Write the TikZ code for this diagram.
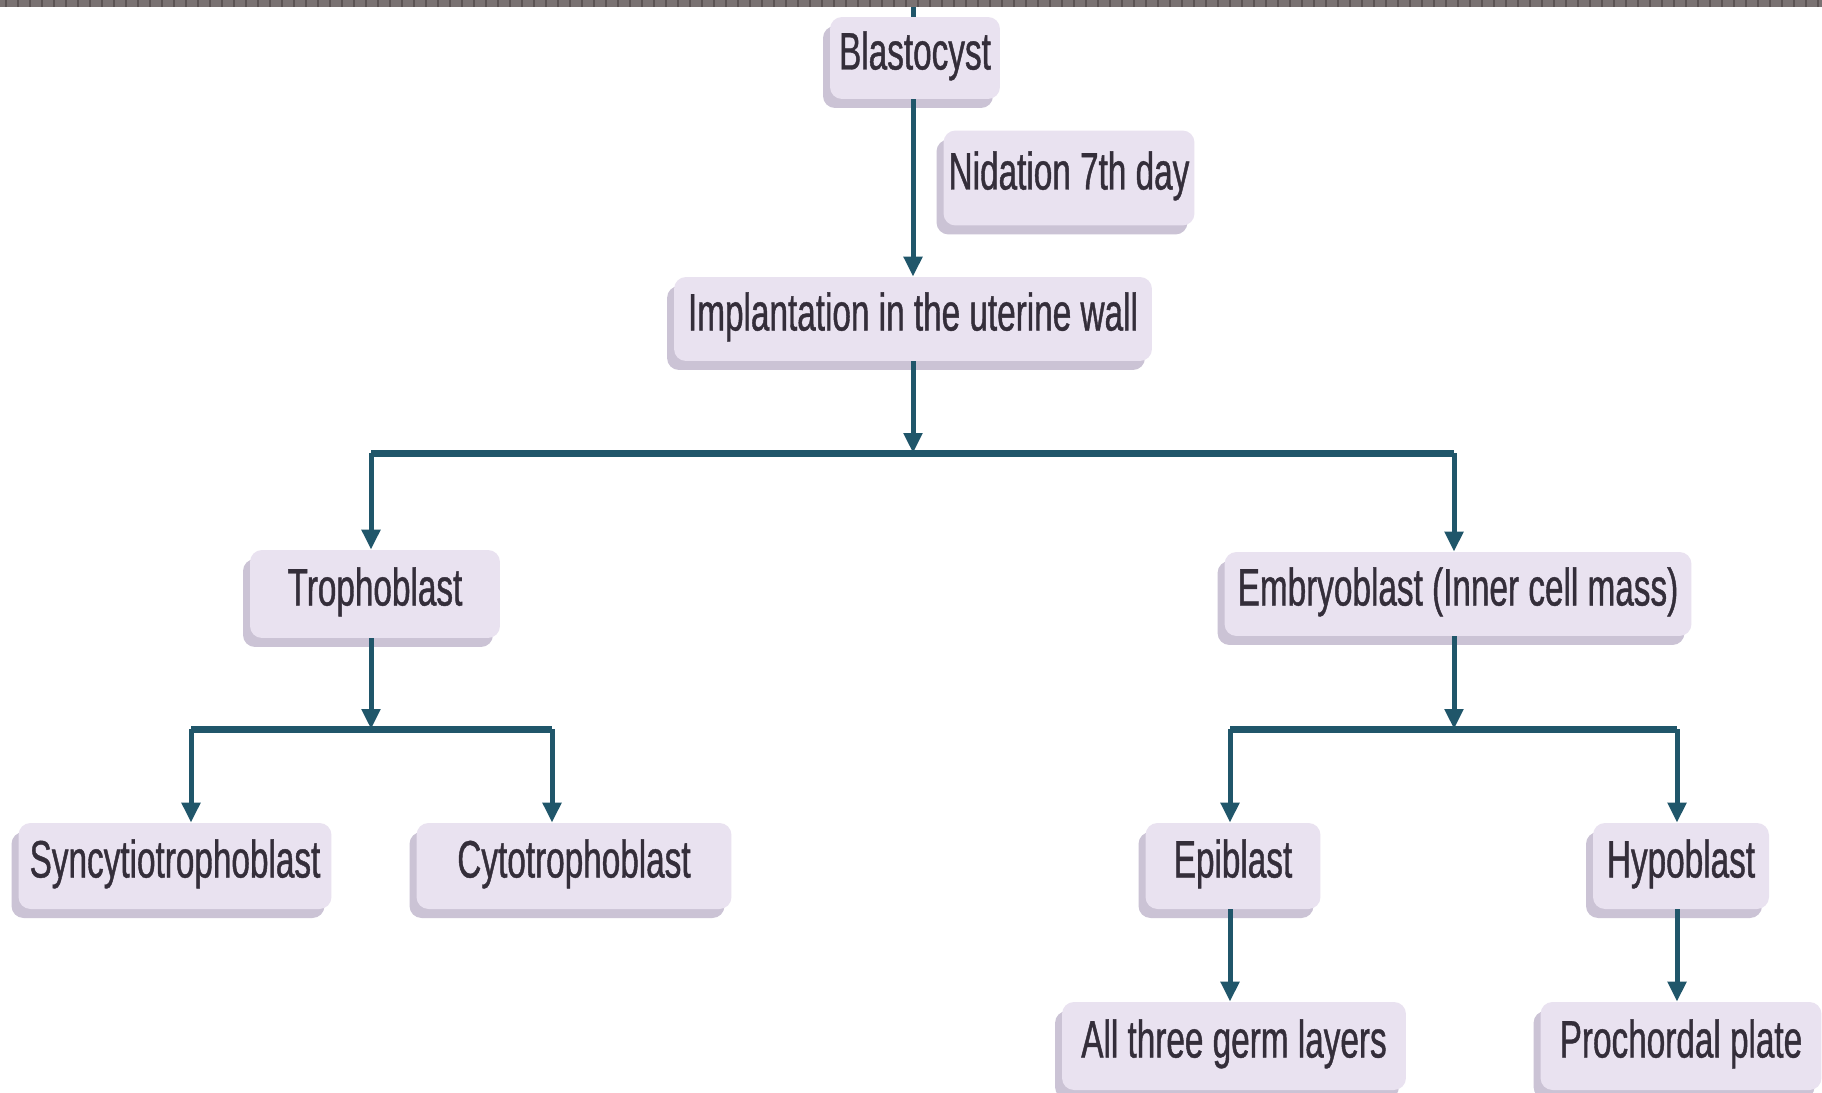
\documentclass[tikz,border=0pt]{standalone}
\usepackage{fontspec}
\setmainfont{Liberation Sans}[FakeStretch=0.632, FakeBold=0.8]
\usetikzlibrary{arrows.meta,shadows}
\definecolor{boxfill}{RGB}{233,226,240}
\definecolor{boxshadow}{RGB}{203,195,213}
\definecolor{linecol}{RGB}{32,86,106}
\definecolor{textcol}{RGB}{52,46,58}
\definecolor{stripcol}{RGB}{122,114,114}
\definecolor{tickcol}{RGB}{92,84,84}
\tikzset{
  box/.style={rectangle, rounded corners=0.24cm, fill=boxfill, draw=none,
    text=textcol, inner sep=0pt, align=center,
    font=\fontsize{30pt}{36pt}\selectfont,
    text height=0.76cm, text depth=0.3cm,
    drop shadow={shadow xshift=-0.14cm, shadow yshift=-0.18cm, fill=boxshadow, opacity=1}},
  conn/.style={draw=linecol, line width=0.1cm},
  bar/.style={draw=linecol, line width=0.14cm},
  arr/.style={conn, -{Triangle[width=0.36cm,length=0.4cm]}},
}
\begin{document}
\begin{tikzpicture}[x=0.02cm, y=-0.02cm]
\useasboundingbox (0,0) rectangle (1822,1092);
\fill[white] (0,0) rectangle (1822,1092);
% top strip
\fill[stripcol] (0,0) rectangle (1822,7);
\foreach \i in {0,...,151} { \fill[tickcol] (5+12*\i,0) rectangle (6.5+12*\i,7); }

% nodes
\node[box, minimum width=3.4cm, minimum height=1.64cm] (blast) at (915,58) {Blastocyst};
\node[box, minimum width=5.02cm, minimum height=1.9cm] (nid) at (1069,178) {Nidation 7th day};
\node[box, minimum width=9.56cm, minimum height=1.68cm] (impl) at (913,319) {Implantation in the uterine wall};
\node[box, minimum width=5.0cm, minimum height=1.76cm] (troph) at (375,594) {Trophoblast};
\node[box, minimum width=9.34cm, minimum height=1.68cm] (emb) at (1458,594) {Embryoblast (Inner cell mass)};
\node[box, minimum width=6.26cm, minimum height=1.72cm] (syn) at (175,866) {Syncytiotrophoblast};
\node[box, minimum width=6.3cm, minimum height=1.72cm] (cyto) at (574,866) {Cytotrophoblast};
\node[box, minimum width=3.5cm, minimum height=1.72cm] (epi) at (1233,866) {Epiblast};
\node[box, minimum width=3.52cm, minimum height=1.72cm] (hypo) at (1681,866) {Hypoblast};
\node[box, minimum width=6.88cm, minimum height=1.76cm] (germ) at (1234,1046) {All three germ layers};
\node[box, minimum width=5.62cm, minimum height=1.76cm] (proch) at (1681,1046) {Prochordal plate};

% coordinates
\coordinate (top) at (913,7);
\coordinate (c0) at (913,453);
\coordinate (lb) at (371,453);
\coordinate (rb) at (1454,453);
\coordinate (c1) at (371,729);
\coordinate (s1) at (191,729);
\coordinate (s2) at (552,729);
\coordinate (c2) at (1454,729);
\coordinate (e1) at (1230,729);
\coordinate (e2) at (1677,729);

% connectors
\draw[conn] (top) -- (top |- blast.north);
\draw[arr] (top |- blast.south) -- (top |- impl.north);
\draw[arr] (top |- impl.south) -- (c0);
\draw[bar] (lb) -- (rb);
\draw[arr] (lb) -- (lb |- troph.north);
\draw[arr] (rb) -- (rb |- emb.north);

\draw[arr] (c1 |- troph.south) -- (c1);
\draw[bar] (s1) -- (s2);
\draw[arr] (s1) -- (s1 |- syn.north);
\draw[arr] (s2) -- (s2 |- cyto.north);

\draw[arr] (c2 |- emb.south) -- (c2);
\draw[bar] (e1) -- (e2);
\draw[arr] (e1) -- (e1 |- epi.north);
\draw[arr] (e2) -- (e2 |- hypo.north);

\draw[arr] (e1 |- epi.south) -- (e1 |- germ.north);
\draw[arr] (e2 |- hypo.south) -- (e2 |- proch.north);
\end{tikzpicture}
\end{document}
